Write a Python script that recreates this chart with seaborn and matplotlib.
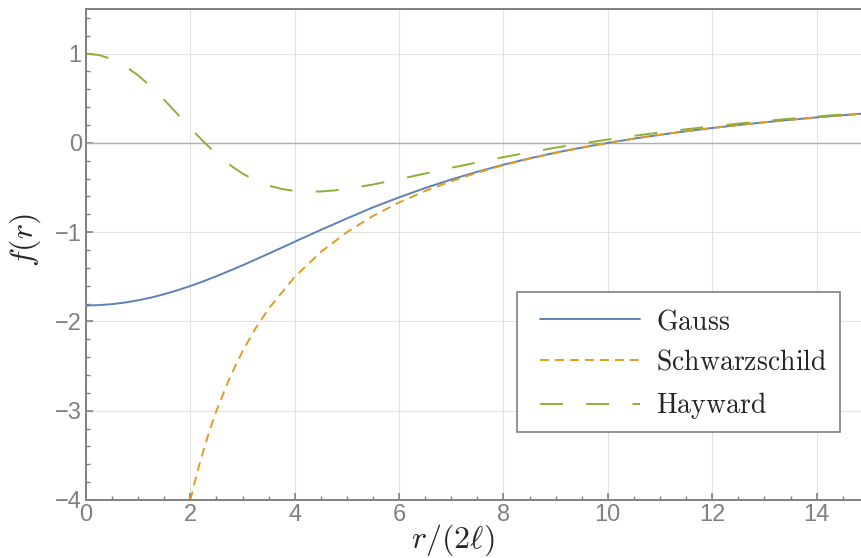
import matplotlib
matplotlib.use("Agg")
import matplotlib.pyplot as plt
import seaborn as sns
from matplotlib.ticker import MultipleLocator
from matplotlib.patches import Rectangle

# ---- data ----
r_gauss = [0, 0.25, 0.5, 0.75, 1, 1.25, 1.5, 1.75, 2, 2.25, 2.5, 2.75, 3,
           3.25, 3.5, 3.75, 4, 4.5, 5, 5.5, 6, 6.5, 7, 7.5, 8, 8.5, 9, 9.5,
           10, 10.5, 11, 11.5, 12, 12.5, 13, 13.5, 14, 14.5, 15]
f_gauss = [-1.821, -1.817, -1.806, -1.788, -1.763, -1.732, -1.694, -1.651,
           -1.603, -1.550, -1.493, -1.433, -1.371, -1.306, -1.240, -1.174,
           -1.107, -0.974, -0.846, -0.722, -0.610, -0.505, -0.410, -0.323,
           -0.244, -0.173, -0.109, -0.052, 0.000, 0.048, 0.091, 0.131, 0.167,
           0.200, 0.231, 0.259, 0.286, 0.310, 0.333]

r_schw = [2, 2.1, 2.2, 2.3, 2.4, 2.5, 2.75, 3, 3.25, 3.5, 4, 4.5, 5, 5.5, 6,
          6.5, 7, 7.5, 8, 8.5, 9, 9.5, 10, 10.5, 11, 11.5, 12, 12.5, 13, 13.5,
          14, 14.5, 15]
f_schw = [-4.000, -3.762, -3.545, -3.348, -3.167, -3.000, -2.636, -2.333,
          -2.077, -1.857, -1.500, -1.222, -1.000, -0.818, -0.667, -0.538,
          -0.429, -0.333, -0.250, -0.176, -0.111, -0.053, 0.000, 0.048, 0.091,
          0.130, 0.167, 0.200, 0.231, 0.259, 0.286, 0.310, 0.333]

r_hay = [0, 0.25, 0.5, 0.75, 1, 1.25, 1.5, 1.75, 2, 2.25, 2.5, 2.75, 3, 3.25,
         3.5, 3.75, 4, 4.25, 4.5, 4.75, 5, 5.5, 6, 6.5, 7, 7.5, 8, 8.5, 9,
         9.5, 10, 10.5, 11, 11.5, 12, 12.5, 13, 13.5, 14, 14.5, 15]
f_hay = [1.000, 0.984, 0.938, 0.861, 0.756, 0.628, 0.481, 0.325, 0.167,
         0.015, -0.124, -0.244, -0.343, -0.421, -0.478, -0.516, -0.538,
         -0.547, -0.544, -0.533, -0.515, -0.466, -0.406, -0.343, -0.279,
         -0.218, -0.159, -0.105, -0.053, -0.006, 0.038, 0.079, 0.117, 0.153,
         0.186, 0.216, 0.245, 0.271, 0.296, 0.319, 0.341]

labels = ["Gauss", "Schwarzschild", "Hayward"]
x_ticks = [0, 2, 4, 6, 8, 10, 12, 14]
y_ticks = [-4, -3, -2, -1, 0, 1]

# ---- style ----
sns.set_theme(style="white")
plt.rcParams["font.family"] = ["Liberation Sans", "DejaVu Sans"]
plt.rcParams["mathtext.fontset"] = "cm"
plt.rcParams["axes.unicode_minus"] = True

c_blue = "#5E81B5"
c_orange = "#E19C24"
c_green = "#8FB032"
gray = "#808080"

fig = plt.figure(figsize=(8.62, 5.58), dpi=100)
ax = fig.add_axes([86 / 862, 58 / 558, 1 - 86 / 862, (500 - 9) / 558])

lw = 1.4
sns.lineplot(x=r_gauss, y=f_gauss, ax=ax, color=c_blue, lw=lw,
             label=r"$\mathrm{%s}$" % labels[0], sort=False, estimator=None)
sns.lineplot(x=r_schw, y=f_schw, ax=ax, color=c_orange, lw=lw,
             ls=(0, (4.6, 3.1)), label=r"$\mathrm{%s}$" % labels[1],
             sort=False, estimator=None)
sns.lineplot(x=r_hay, y=f_hay, ax=ax, color=c_green, lw=lw,
             ls=(0, (11.8, 12.0)), label=r"$\mathrm{%s}$" % labels[2],
             sort=False, estimator=None)

ax.set_xlim(0, 14.87)
ax.set_ylim(-4, 1.5)
ax.set_xticks(x_ticks)
ax.set_yticks(y_ticks)
ax.xaxis.set_minor_locator(MultipleLocator(0.5))
ax.yaxis.set_minor_locator(MultipleLocator(0.2))

ax.grid(True, which="major", color="#e3e3e3", lw=0.8)
ax.axhline(0, color="#b0b0b0", lw=1.0, zorder=1)

for side in ["left", "bottom", "top"]:
    ax.spines[side].set_color(gray)
    ax.spines[side].set_linewidth(1.4)
ax.spines["right"].set_visible(False)

ax.tick_params(axis="both", which="major", direction="in", length=5,
               width=1.2, color=gray, labelcolor=gray, labelsize=17, pad=3)
ax.tick_params(axis="both", which="minor", direction="in", length=3,
               width=1.0, color=gray)
ax.tick_params(bottom=True, left=True, top=False, right=False,
               which="both")

ax.set_xlabel(r"$r/(2\ell)$", fontsize=23)
ax.xaxis.set_label_coords((453 - 86) / 776, (500 - 523) / 491)
ax.set_ylabel(r"$f(r)$", fontsize=23)
ax.yaxis.set_label_coords((43 - 86) / 776, (500 - 240) / 491)

# legend box (Mathematica-style framed legend)
box = Rectangle(((517 - 86) / 776, (500 - 432) / 491),
                (840 - 517) / 776, (432 - 292) / 491,
                transform=ax.transAxes, facecolor="white", edgecolor=gray,
                lw=1.2, zorder=4)
ax.add_patch(box)
leg = ax.legend(loc="upper left",
                bbox_to_anchor=((540 - 86) / 776, (500 - 309) / 491),
                fontsize=20, frameon=False, handlelength=3.6,
                handletextpad=0.58, borderpad=0, labelspacing=0.53,
                borderaxespad=0)
leg.set_zorder(5)

fig.savefig("out.png", dpi=100)
